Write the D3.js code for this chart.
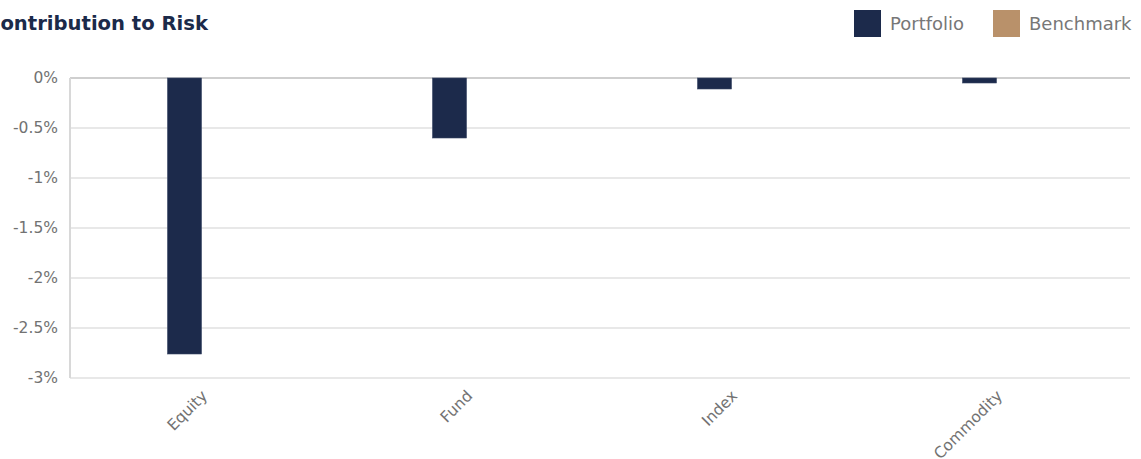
<!doctype html>
<html>
  <head>
    <script src="https://cdnjs.cloudflare.com/ajax/libs/d3/7.8.5/d3.min.js"></script>
  <style>
    body { margin: 0; background: #fff; }
    svg, svg text { font-family: "DejaVu Sans", sans-serif; }
    .domain { stroke: none; }
  </style>
  </head>
  <body>
    <svg id="chart" width="1141" height="459"></svg>
    <script>
      var categories = ["Equity", "Fund", "Index", "Commodity"];
      var seriesNames = ["Portfolio", "Benchmark"];
      var portfolio = [-2.76, -0.6, -0.11, -0.05];
      var benchmark = [0, 0, 0, 0];
      var yTicks = [0, -0.5, -1, -1.5, -2, -2.5, -3];
      var colors = ["#1c2a4b", "#b9916a"];

      var svg = d3.select("#chart");
      var plotLeft = 70, plotRight = 1130, plotTop = 78, plotBottom = 378;

      var x = d3.scaleBand().domain(categories).range([plotLeft, plotRight]);
      var inner = d3.scaleBand().domain(seriesNames).range([-35, 33]);
      var y = d3.scaleLinear().domain([-3, 0]).range([plotBottom, plotTop]);

      // grid
      svg.append("g").selectAll("line")
        .data(yTicks)
        .enter().append("line")
          .attr("x1", plotLeft).attr("x2", plotRight)
          .attr("y1", d => y(d)).attr("y2", d => y(d))
          .attr("stroke", d => d === 0 ? "#cfcfcf" : "#e8e8e8")
          .attr("stroke-width", 2);

      svg.append("line")
        .attr("x1", plotLeft).attr("x2", plotLeft)
        .attr("y1", plotTop).attr("y2", plotBottom)
        .attr("stroke", "#d8d8d8").attr("stroke-width", 2);

      var yAxis = d3.axisLeft(y)
        .tickValues(yTicks)
        .tickSize(0)
        .tickPadding(12)
        .tickFormat(d => d + "%");
      svg.append("g")
        .attr("transform", "translate(" + plotLeft + ",0)")
        .call(yAxis)
        .attr("font-family", null)
        .selectAll("text")
          .attr("fill", "#727272")
          .style("font-size", "15.5px");

      var xAxis = d3.axisBottom(x).tickSize(0).tickPadding(0);
      svg.append("g")
        .attr("transform", "translate(0," + plotBottom + ")")
        .call(xAxis)
        .attr("font-family", null)
        .selectAll("text")
          .attr("fill", "#727272")
          .style("font-size", "15.5px")
          .attr("text-anchor", "end")
          .attr("dy", "0.35em")
          .attr("transform", "translate(2,15) rotate(-45)");

      var rows = categories.map((c, i) => ({ cat: c, vals: [portfolio[i], benchmark[i]] }));

      svg.append("g").selectAll("g")
        .data(rows)
        .enter().append("g")
          .attr("transform", d => "translate(" + (x(d.cat) + x.bandwidth() / 2) + ",0)")
        .selectAll("rect")
        .data(d => d.vals.map((v, j) => ({ name: seriesNames[j], v: v, j: j })))
        .enter().append("rect")
          .attr("x", d => inner(d.name))
          .attr("width", inner.bandwidth())
          .attr("y", y(0))
          .attr("height", d => y(d.v) - y(0))
          .attr("fill", d => colors[d.j])
          .attr("stroke", d => d.v === 0 ? "none" : "#3a4766")
          .attr("stroke-width", 0.6);

      svg.append("text")
        .attr("x", -14).attr("y", 30)
        .attr("fill", "#1b2a4a")
        .style("font-size", "19.6px")
        .style("font-weight", "bold")
        .text("Contribution to Risk");

      var legendX = [854, 993];
      var legend = svg.append("g").selectAll("g")
        .data(seriesNames)
        .enter().append("g")
          .attr("transform", (d, i) => "translate(" + legendX[i] + ",10)");
      legend.append("rect")
        .attr("width", 27).attr("height", 27)
        .attr("fill", (d, i) => colors[i]);
      legend.append("text")
        .attr("x", 36).attr("y", 20)
        .attr("fill", "#777")
        .style("font-size", "18px")
        .text(d => d);
    </script>
  </body>
</html>
